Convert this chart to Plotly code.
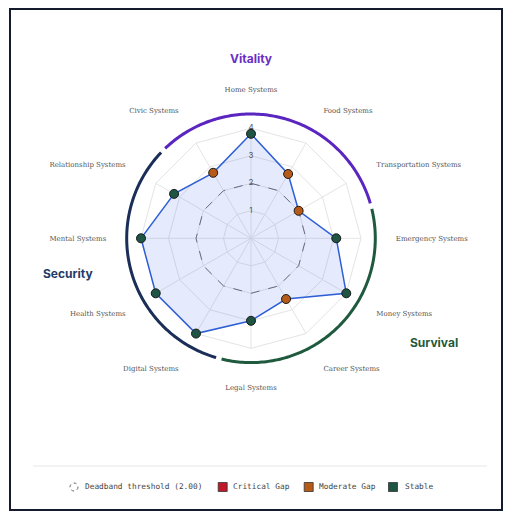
import numpy as np
import plotly.graph_objects as go

W, H = 518, 523

categories = ["Home Systems", "Food Systems", "Transportation Systems", "Emergency Systems",
              "Money Systems", "Career Systems", "Legal Systems", "Digital Systems",
              "Health Systems", "Mental Systems", "Relationship Systems", "Civic Systems"]
scores = [3.8, 2.7, 2.0, 3.1, 4.0, 2.55, 3.0, 4.0, 4.0, 4.0, 3.23, 2.75]
status = ["Stable", "Moderate Gap", "Moderate Gap", "Stable", "Stable", "Moderate Gap",
          "Stable", "Stable", "Stable", "Stable", "Stable", "Moderate Gap"]
threshold = 2.0
radial_ticks = [1, 2, 3, 4]

groups = ["Vitality", "Survival", "Security"]
group_members = {
    "Vitality": ["Civic Systems", "Home Systems", "Food Systems", "Transportation Systems"],
    "Survival": ["Emergency Systems", "Money Systems", "Career Systems", "Legal Systems"],
    "Security": ["Digital Systems", "Health Systems", "Mental Systems", "Relationship Systems"],
}
group_arc_colors = {"Vitality": "#5a25c0", "Survival": "#1f5a3e", "Security": "#1b2e57"}
group_text_colors = {"Vitality": "#6a2fc4", "Survival": "#1f5a3a", "Security": "#1f3a66"}
group_label_pos = {"Vitality": (251, 58), "Security": (68, 273), "Survival": (434, 342)}

status_colors = {"Critical Gap": "#c0182a", "Moderate Gap": "#b55a17", "Stable": "#1d5443"}
legend_labels = ["Deadband threshold (2.00)", "Critical Gap", "Moderate Gap", "Stable"]

RMAX = 4.65
ARC_R = 4.52
cx, cy = 251, 238.3
px_per_unit = 27.5
R_px = RMAX * px_per_unit

def px(x):
    return x / W

def py(y):
    return 1 - y / H

fig = go.Figure()

# spokes
sr, st = [], []
for c in categories:
    sr += [0, radial_ticks[-1], None]
    st += [c, c, None]
fig.add_trace(go.Scatterpolar(r=sr, theta=st, mode="lines", line=dict(color="#e4e4e4", width=1),
                              hoverinfo="skip", showlegend=False, subplot="polar"))

# deadband threshold
fig.add_trace(go.Scatterpolar(r=[threshold] * (len(categories) + 1), theta=categories + categories[:1],
                              mode="lines", line=dict(color="#6b6b6b", width=1, dash="dash"),
                              hoverinfo="skip", showlegend=False, subplot="polar"))

# area
fig.add_trace(go.Scatterpolar(r=scores + scores[:1], theta=categories + categories[:1], mode="lines",
                              fill="toself", fillcolor="rgba(70,110,235,0.14)",
                              line=dict(color="#2f5fd6", width=1.5),
                              hoverinfo="skip", showlegend=False, subplot="polar"))

# radial tick labels
fig.add_trace(go.Scatterpolar(r=radial_ticks, theta=[categories[0]] * len(radial_ticks), mode="text",
                              text=[str(t) for t in radial_ticks],
                              textfont=dict(family="Inter", size=8, color="#555555"),
                              hoverinfo="skip", showlegend=False, subplot="polar"))

# markers
fig.add_trace(go.Scatterpolar(r=scores, theta=categories, mode="markers",
                              marker=dict(size=9, color=[status_colors[s] for s in status],
                                          line=dict(color="#1a1a1a", width=1)),
                              showlegend=False, subplot="polar"))

# group arcs (second polar with numeric angles, clockwise from top)
step = 360 / len(categories)
gap = 1.3
for g in groups:
    idx = [categories.index(m) for m in group_members[g]]
    angs = [i * step for i in idx]
    base = angs[0]
    angs = [base + ((a - base) % 360) for a in angs]
    a0 = min(angs) - step / 2 + gap
    a1 = max(angs) + step / 2 - gap
    th = np.linspace(a0, a1, 120)
    fig.add_trace(go.Scatterpolar(r=[ARC_R] * len(th), theta=th, mode="lines",
                                  line=dict(color=group_arc_colors[g], width=3),
                                  hoverinfo="skip", showlegend=False, subplot="polar2"))

dom_x = [px(cx - R_px), px(cx + R_px)]
dom_y = [py(cy + R_px), py(cy - R_px)]

fig.update_layout(
    width=W, height=H,
    margin=dict(l=0, r=0, t=0, b=0),
    paper_bgcolor="white",
    plot_bgcolor="white",
    showlegend=False,
    polar=dict(
        domain=dict(x=dom_x, y=dom_y),
        bgcolor="rgba(0,0,0,0)",
        gridshape="linear",
        radialaxis=dict(range=[0, RMAX], tickvals=radial_ticks, showticklabels=False, ticks="",
                        showline=False, gridcolor="#e4e4e4", gridwidth=1),
        angularaxis=dict(direction="clockwise", rotation=90, showgrid=False, showline=False,
                         ticks="outside", ticklen=15, tickcolor="rgba(0,0,0,0)",
                         tickfont=dict(family="DejaVu Serif", size=7, color="#555555")),
    ),
    polar2=dict(
        domain=dict(x=dom_x, y=dom_y),
        bgcolor="rgba(0,0,0,0)",
        radialaxis=dict(range=[0, RMAX], visible=False),
        angularaxis=dict(direction="clockwise", rotation=90, visible=False),
    ),
)

shapes = []
annotations = []

# outer border
shapes.append(dict(type="rect", xref="paper", yref="paper", x0=px(10), x1=px(502), y0=py(510), y1=py(9),
                   line=dict(color="#141b2d", width=2), fillcolor="rgba(0,0,0,0)"))
# separator
shapes.append(dict(type="line", xref="paper", yref="paper", x0=px(33), x1=px(487), y0=py(466), y1=py(466),
                   line=dict(color="#e6e6e6", width=1)))

# group labels
for g in groups:
    x, y = group_label_pos[g]
    annotations.append(dict(x=px(x), y=py(y), xref="paper", yref="paper", text=f"<b>{g}</b>",
                            showarrow=False, xanchor="center", yanchor="middle",
                            font=dict(family="Inter", size=12, color=group_text_colors[g])))

# legend
leg_y = 487
icon_x = [74, 222.7, 308.7, 393]
text_x = [83, 231, 317, 403]
for i, lab in enumerate(legend_labels):
    ix = icon_x[i]
    if i == 0:
        shapes.append(dict(type="circle", xref="paper", yref="paper", x0=px(ix - 4), x1=px(ix + 4),
                           y0=py(leg_y + 4), y1=py(leg_y - 4), line=dict(color="#666666", width=1, dash="dot")))
    else:
        shapes.append(dict(type="rect", xref="paper", yref="paper", x0=px(ix - 4.5), x1=px(ix + 4.5),
                           y0=py(leg_y + 4.5), y1=py(leg_y - 4.5), fillcolor=status_colors[lab],
                           line=dict(color="#333333", width=0.8)))
    annotations.append(dict(x=px(text_x[i]), y=py(leg_y), xref="paper", yref="paper", text=lab,
                            showarrow=False, xanchor="left", yanchor="middle",
                            font=dict(family="DejaVu Sans Mono", size=7.8, color="#444444")))

fig.update_layout(shapes=shapes, annotations=annotations)
fig.write_html("out.html")
